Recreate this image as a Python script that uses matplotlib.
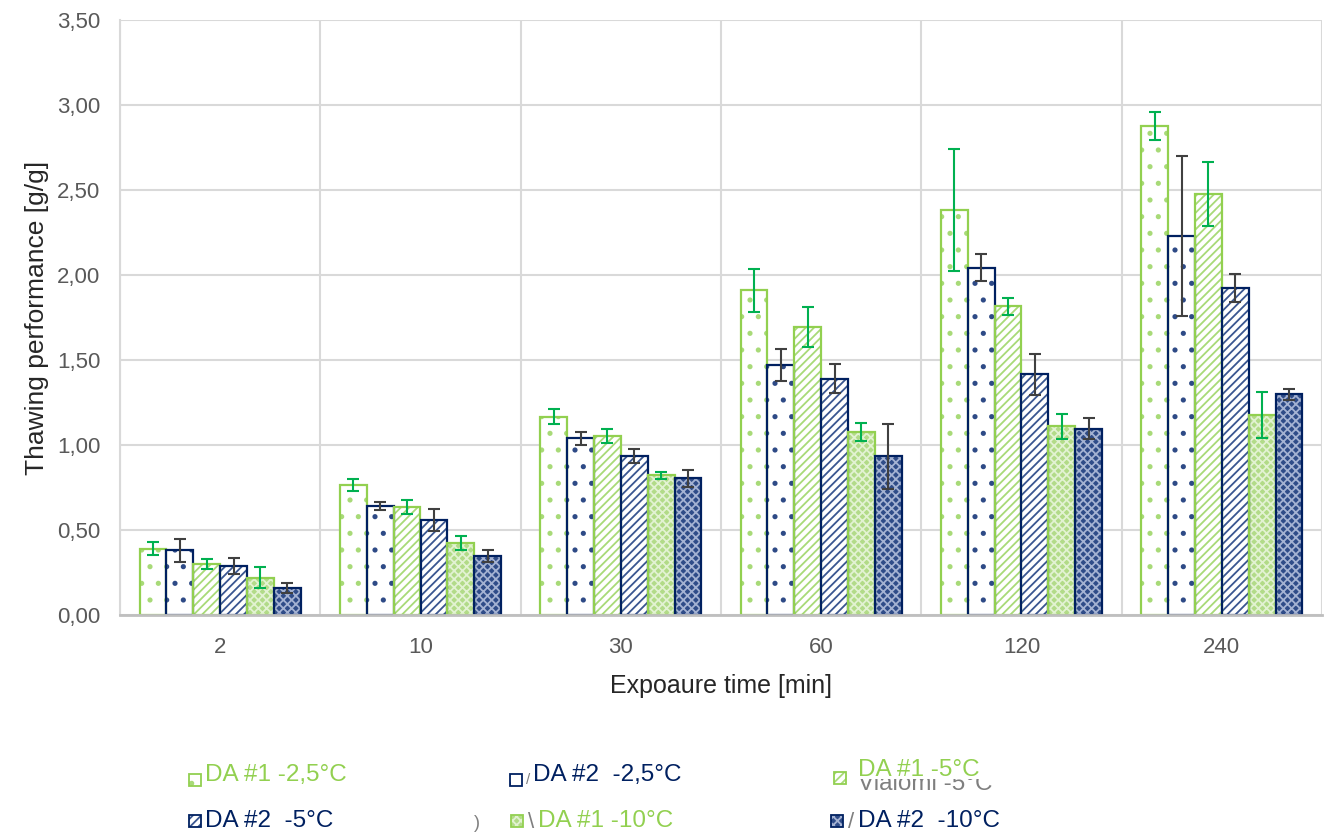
import matplotlib
matplotlib.use("Agg")
import matplotlib.pyplot as plt
from matplotlib.patches import Rectangle
from matplotlib.ticker import FuncFormatter, FixedLocator
import numpy as np

plt.rcParams['font.family'] = ['Liberation Sans', 'DejaVu Sans']
plt.rcParams['hatch.linewidth'] = 1.3

categories = ["2", "10", "30", "60", "120", "240"]
series_names = ["DA #1 -2,5°C", "DA #2  -2,5°C", "DA #1 -5°C",
                "DA #2  -5°C", "DA #1 -10°C", "DA #2  -10°C"]

da1_m25 = [0.39, 0.765, 1.167, 1.909, 2.381, 2.876]
da2_m25 = [0.382, 0.641, 1.039, 1.470, 2.044, 2.229]
da1_m5 = [0.302, 0.637, 1.051, 1.694, 1.815, 2.476]
da2_m5 = [0.288, 0.560, 0.936, 1.389, 1.417, 1.922]
da1_m10 = [0.218, 0.425, 0.821, 1.077, 1.111, 1.177]
da2_m10 = [0.160, 0.347, 0.804, 0.933, 1.095, 1.299]

err_da1_m25 = [0.037, 0.037, 0.045, 0.125, 0.358, 0.082]
err_da2_m25 = [0.068, 0.024, 0.037, 0.093, 0.078, 0.471]
err_da1_m5 = [0.030, 0.042, 0.042, 0.117, 0.048, 0.186]
err_da2_m5 = [0.047, 0.065, 0.042, 0.085, 0.121, 0.082]
err_da1_m10 = [0.062, 0.041, 0.022, 0.054, 0.074, 0.135]
err_da2_m10 = [0.030, 0.035, 0.049, 0.193, 0.062, 0.033]

values = [da1_m25, da2_m25, da1_m5, da2_m5, da1_m10, da2_m10]
errors = [err_da1_m25, err_da2_m25, err_da1_m5, err_da2_m5, err_da1_m10, err_da2_m10]

GREEN = '#92D050'
NAVY = '#002060'
ERR_GREEN = '#00B050'
ERR_DARK = '#404040'

styles = [
    dict(edge=GREEN, face='white', hatch='.', hcol='#A8DA78', ecol=ERR_GREEN, tcol=GREEN),
    dict(edge=NAVY, face='white', hatch='.', hcol='#2E4A86', ecol=ERR_DARK, tcol=NAVY),
    dict(edge=GREEN, face='white', hatch='////', hcol='#A8DA78', ecol=ERR_GREEN, tcol=GREEN),
    dict(edge=NAVY, face='white', hatch='////', hcol='#3A5690', ecol=ERR_DARK, tcol=NAVY),
    dict(edge=GREEN, face='#B2DB88', hatch='xxxx', hcol='#E2F2D2', ecol=ERR_GREEN, tcol=GREEN),
    dict(edge=NAVY, face='#2F4C88', hatch='xxxx', hcol='#A4B2D2', ecol=ERR_DARK, tcol=NAVY),
]

W, H = 1324, 836
fig = plt.figure(figsize=(W / 100, H / 100), dpi=100)
ax = fig.add_axes([120 / W, 1 - 615 / H, 1202 / W, 595 / H])

x = np.arange(len(categories))
bw = 0.134
for i, (vals, errs, st) in enumerate(zip(values, errors, styles)):
    pos = x + (i - 2.5) * bw
    ax.bar(pos, vals, bw, color=st['face'], edgecolor=st['hcol'], hatch=st['hatch'],
           linewidth=0, zorder=3)
    ax.bar(pos, vals, bw, fill=False, edgecolor=st['edge'], linewidth=1.6, zorder=4)
    ax.errorbar(pos, vals, yerr=errs, fmt='none', ecolor=st['ecol'], elinewidth=1.5,
                capsize=4.5, capthick=1.5, zorder=5)

ax.set_xlim(-0.5, len(categories) - 0.5)
ax.set_ylim(0, 3.5)
ax.set_yticks(np.arange(0, 3.51, 0.5))
ax.yaxis.set_major_formatter(FuncFormatter(lambda v, p: f"{v:.2f}".replace('.', ',')))
ax.set_xticks(x)
ax.set_xticklabels(categories)
ax.xaxis.set_minor_locator(FixedLocator(np.arange(-0.5, len(categories), 1.0)))
ax.grid(axis='y', which='major', color='#D9D9D9', linewidth=1.5, zorder=0)
ax.grid(axis='x', which='minor', color='#D9D9D9', linewidth=1.5, zorder=0)
ax.grid(axis='x', which='major', visible=False)
ax.tick_params(axis='both', which='both', length=0)
ax.tick_params(axis='y', labelsize=16, labelcolor='#595959', pad=14)
ax.tick_params(axis='x', labelsize=16, labelcolor='#595959', pad=16)
for s in ['top', 'right']:
    ax.spines[s].set_visible(False)
ax.spines['left'].set_color('#D9D9D9')
ax.spines['left'].set_linewidth(1.5)
ax.spines['bottom'].set_color('#BFBFBF')
ax.spines['bottom'].set_linewidth(2)
ax.spines['bottom'].set_zorder(6)

ax.set_ylabel('Thawing performance [g/g]', fontsize=19, color='#262626', labelpad=6)
ax.set_xlabel('Expoaure time [min]', fontsize=18, color='#262626', labelpad=11)


def fx(px):
    return px / W


def fy(py):
    return 1 - py / H


# ghost text partly hidden behind the third legend entry
fig.text(fx(858), fy(784), 'Vialomi -5°C', fontsize=17.5, color='#7F7F7F',
         va='center', ha='left', zorder=1)
fig.add_artist(Rectangle((fx(852), fy(779)), fx(160), 26 / H, transform=fig.transFigure,
                         facecolor='white', edgecolor='none', zorder=2))

leg_pos = [(195, 780, 775, 205), (516, 780, 775, 533), (840, 778, 770, 858),
           (195, 821, 821, 205), (517, 821, 821, 538), (837, 821, 821, 858)]
for (mx, my, ty, tx), name, st in zip(leg_pos, series_names, styles):
    s = 12
    fig.add_artist(Rectangle((fx(mx - s / 2), fy(my + s / 2)), s / W, s / H,
                             transform=fig.transFigure, facecolor=st['face'],
                             edgecolor=st['hcol'], hatch=st['hatch'], linewidth=0, zorder=3))
    fig.add_artist(Rectangle((fx(mx - s / 2), fy(my + s / 2)), s / W, s / H,
                             transform=fig.transFigure, fill=False,
                             edgecolor=st['edge'], linewidth=1.3, zorder=4))
    fig.text(fx(tx), fy(ty), name, fontsize=17.5, color=st['tcol'], va='center', ha='left',
             zorder=5)

# small ghost glyph fragments
fig.text(fx(474), fy(824), ')', fontsize=13, color='#7F7F7F', va='center', ha='left')
fig.text(fx(528), fy(822), '\\', fontsize=16, color='#7F7F7F', va='center', ha='left')
fig.text(fx(848), fy(822), '/', fontsize=16, color='#7F7F7F', va='center', ha='left')
fig.text(fx(526), fy(780), '/', fontsize=11, color='#7F7F7F', va='center', ha='left')

fig.savefig('out.png', dpi=100)
